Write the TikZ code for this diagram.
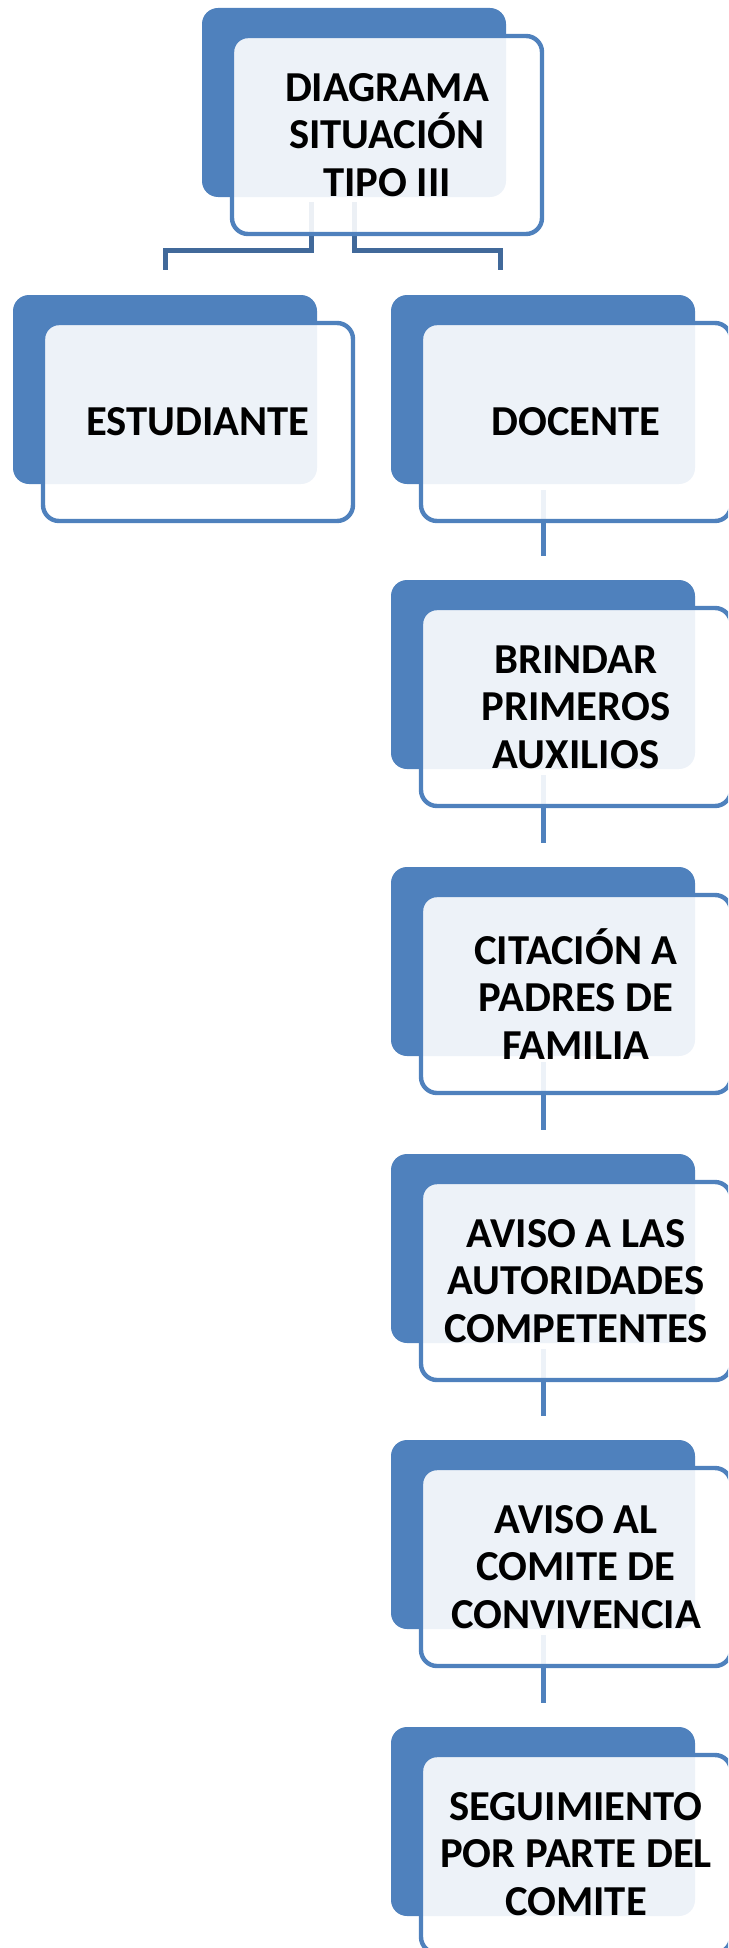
\documentclass[tikz,border=0pt]{standalone}
\usepackage{fontspec}
\setmainfont{Carlito}
\usetikzlibrary{calc}
\definecolor{accent}{HTML}{4F81BD}
\definecolor{linkdark}{HTML}{41699A}
\begin{document}
\begin{tikzpicture}[x=0.75pt,y=-0.75pt,
  backcard/.style={fill=accent, draw=none, rounded corners=12pt, minimum width=228pt, minimum height=141.75pt, inner sep=0pt, outer sep=0pt, anchor=north west},
  frontcard/.style={fill=white, fill opacity=0.9, text opacity=1, draw=accent, line width=3.3pt, rounded corners=12pt, minimum width=232.5pt, minimum height=148.5pt, inner sep=0pt, outer sep=0pt, anchor=north west, align=center, font=\fontsize{32}{35.5}\selectfont\bfseries, text=black},
  toplink/.style={draw=linkdark, line width=3.75pt},
  chainlink/.style={draw=accent, line width=3.75pt}]
\useasboundingbox (0,0) rectangle (728,1948);
\clip (0,0) rectangle (728,1948);
% back cards
\node[backcard] (topd) at (202,8) {};
\node[backcard] (estd) at (13,295) {};
\node[backcard] (docd) at (391,295) {};
\node[backcard] (c1d) at (391,580) {};
\node[backcard] (c2d) at (391,867) {};
\node[backcard] (c3d) at (391,1154) {};
\node[backcard] (c4d) at (391,1440) {};
\node[backcard] (c5d) at (391,1727) {};
% connectors
\draw[toplink] ($(topd.south)+(-43,5)$) -- ++(0,48) -| ($(estd.north)+(0,-25)$);
\draw[toplink] ($(topd.south)+(0,5)$) -- ++(0,48) -| ($(docd.north)+(-43,-25)$);
\draw[chainlink] ($(docd.south)+(0,6)$) -- ($(c1d.north)+(0,-24)$);
\draw[chainlink] ($(c1d.south)+(0,6)$) -- ($(c2d.north)+(0,-24)$);
\draw[chainlink] ($(c2d.south)+(0,6)$) -- ($(c3d.north)+(0,-24)$);
\draw[chainlink] ($(c3d.south)+(0,6)$) -- ($(c4d.north)+(0,-24)$);
\draw[chainlink] ($(c4d.south)+(0,6)$) -- ($(c5d.north)+(0,-24)$);
% front cards
\node[frontcard] (topf) at ($(topd.north west)+(30,28)$) {DIAGRAMA\\SITUACIÓN\\TIPO III};
\node[frontcard] (estf) at ($(estd.north west)+(30,28)$) {ESTUDIANTE};
\node[frontcard] (docf) at ($(docd.north west)+(30,28)$) {DOCENTE};
\node[frontcard] (c1f) at ($(c1d.north west)+(30,28)$) {BRINDAR\\PRIMEROS\\AUXILIOS};
\node[frontcard] (c2f) at ($(c2d.north west)+(30,28)$) {CITACIÓN A\\PADRES DE\\FAMILIA};
\node[frontcard] (c3f) at ($(c3d.north west)+(30,28)$) {AVISO A LAS\\AUTORIDADES\\COMPETENTES};
\node[frontcard] (c4f) at ($(c4d.north west)+(30,28)$) {AVISO AL\\COMITE DE\\CONVIVENCIA};
\node[frontcard] (c5f) at ($(c5d.north west)+(30,28)$) {SEGUIMIENTO\\POR PARTE DEL\\COMITE};
\end{tikzpicture}
\end{document}
